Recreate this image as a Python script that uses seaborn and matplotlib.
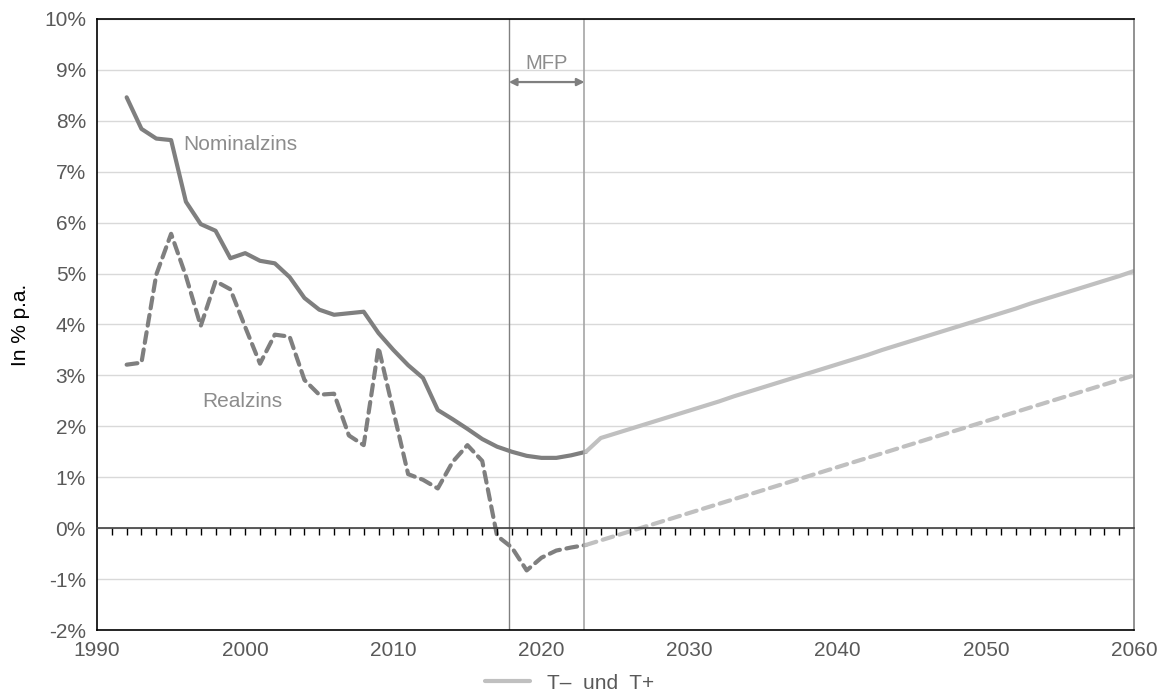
import numpy as np
import pandas as pd
import seaborn as sns
import matplotlib.pyplot as plt
from matplotlib.ticker import FuncFormatter, MultipleLocator

# historical rates (1992-2023)
years_hist = list(range(1992, 2024))
nominal_hist = [8.46, 7.84, 7.65, 7.62, 6.41, 5.97, 5.84, 5.30, 5.40, 5.25, 5.20, 4.93, 4.52, 4.29, 4.19, 4.22,
                4.25, 3.83, 3.50, 3.20, 2.95, 2.32, 2.14, 1.95, 1.75, 1.60, 1.50, 1.42, 1.38, 1.38, 1.43, 1.50]
real_hist = [3.21, 3.25, 4.98, 5.78, 4.95, 3.97, 4.85, 4.69, 3.95, 3.23, 3.80, 3.76, 2.91, 2.62, 2.64, 1.82,
             1.63, 3.55, 2.30, 1.06, 0.95, 0.78, 1.30, 1.63, 1.32, -0.15, -0.38, -0.83, -0.58, -0.44, -0.38, -0.33]

# projection (2023-2060)
years_proj = list(range(2023, 2061))
nominal_proj = [1.50, 1.77, 1.86, 1.95, 2.04, 2.13, 2.22, 2.31, 2.40, 2.49, 2.59, 2.68, 2.77, 2.86, 2.95, 3.04,
                3.13, 3.22, 3.31, 3.40, 3.50, 3.59, 3.68, 3.77, 3.86, 3.95, 4.04, 4.13, 4.22, 4.31, 4.41, 4.50,
                4.59, 4.68, 4.77, 4.86, 4.95, 5.05]
real_proj = [-0.33, -0.24, -0.15, -0.06, 0.03, 0.12, 0.21, 0.30, 0.39, 0.48, 0.57, 0.66, 0.75, 0.84, 0.93, 1.02,
             1.11, 1.20, 1.29, 1.38, 1.47, 1.56, 1.65, 1.74, 1.83, 1.92, 2.01, 2.10, 2.19, 2.28, 2.37, 2.46,
             2.55, 2.64, 2.73, 2.82, 2.91, 3.00]

mfp_start, mfp_end = 2017.8, 2022.9

hist = pd.DataFrame({"Jahr": years_hist, "Nominalzins": nominal_hist, "Realzins": real_hist})
proj = pd.DataFrame({"Jahr": years_proj, "Nominalzins": nominal_proj, "Realzins": real_proj})

sns.set_style("white")
plt.rcParams['font.family'] = ['Liberation Sans', 'DejaVu Sans']

dark = "#7f7f7f"
light = "#c0c0c0"
txt = "#595959"

fig, ax = plt.subplots(figsize=(11.62, 7), dpi=100)
fig.subplots_adjust(left=0.0835, right=0.976, top=0.973, bottom=0.1)

ax.yaxis.grid(True, color="#d9d9d9", linewidth=1)
ax.set_axisbelow(True)

lw = 3.0
sns.lineplot(data=hist, x="Jahr", y="Nominalzins", color=dark, linewidth=lw, ax=ax)
sns.lineplot(data=hist, x="Jahr", y="Realzins", color=dark, linewidth=lw, ax=ax)
sns.lineplot(data=proj, x="Jahr", y="Nominalzins", color=light, linewidth=lw, ax=ax, label="T\u2013  und  T+")
sns.lineplot(data=proj, x="Jahr", y="Realzins", color=light, linewidth=lw, ax=ax)
for ln in (ax.lines[1], ax.lines[3]):
    ln.set_dashes((2.6, 1.6))
    ln.set_dash_capstyle("round")

ax.axvline(mfp_start, color="#808080", linewidth=1)
ax.axvline(mfp_end, color="#a6a6a6", linewidth=1.2)
ax.annotate("", xy=(mfp_start, 8.76), xytext=(mfp_end, 8.76),
            arrowprops=dict(arrowstyle="<|-|>", color=dark, lw=1.6, mutation_scale=11, shrinkA=0, shrinkB=0))
ax.text((mfp_start + mfp_end) / 2, 9.13, "MFP", ha="center", va="center", fontsize=14.5, color="#8c8c8c")

ax.text(1995.8, 7.54, "Nominalzins", ha="left", va="center", fontsize=15, color="#8c8c8c")
ax.text(1997.1, 2.48, "Realzins", ha="left", va="center", fontsize=15, color="#8c8c8c")

ax.set_xlim(1990, 2060)
ax.set_ylim(-2, 10)
ax.xaxis.set_major_locator(MultipleLocator(10))
ax.yaxis.set_major_locator(MultipleLocator(1))
ax.yaxis.set_major_formatter(FuncFormatter(lambda v, p: f"{v:.0f}%"))
ax.tick_params(axis="both", length=0, labelsize=15, labelcolor=txt, pad=8)
ax.set_xlabel("")
ax.set_ylabel("In % p.a.", fontsize=15, color="black", labelpad=10)
for s in ax.spines.values():
    s.set_visible(True)
    s.set_color("black")
    s.set_linewidth(1.2)
ax.spines["right"].set_color("#7f7f7f")

# zero line with yearly ticks
ax2 = ax.twiny()
ax2.set_xlim(1990, 2060)
for s in ["top", "left", "right"]:
    ax2.spines[s].set_visible(False)
ax2.spines["bottom"].set_position(("data", 0))
ax2.spines["bottom"].set_color("#404040")
ax2.spines["bottom"].set_linewidth(1.2)
ax2.xaxis.set_ticks_position("bottom")
ax2.set_xticks(np.arange(1991, 2060, 1))
ax2.tick_params(axis="x", direction="out", length=5, width=1, color="black", labelbottom=False)
ax2.grid(False)

ax.get_legend().remove()
handles, labels = ax.get_legend_handles_labels()
fig.legend(handles, labels, loc="center", bbox_to_anchor=(0.49, 0.024), frameon=False,
           fontsize=15, labelcolor=txt, handlelength=2.2)

plt.savefig("out.png")
